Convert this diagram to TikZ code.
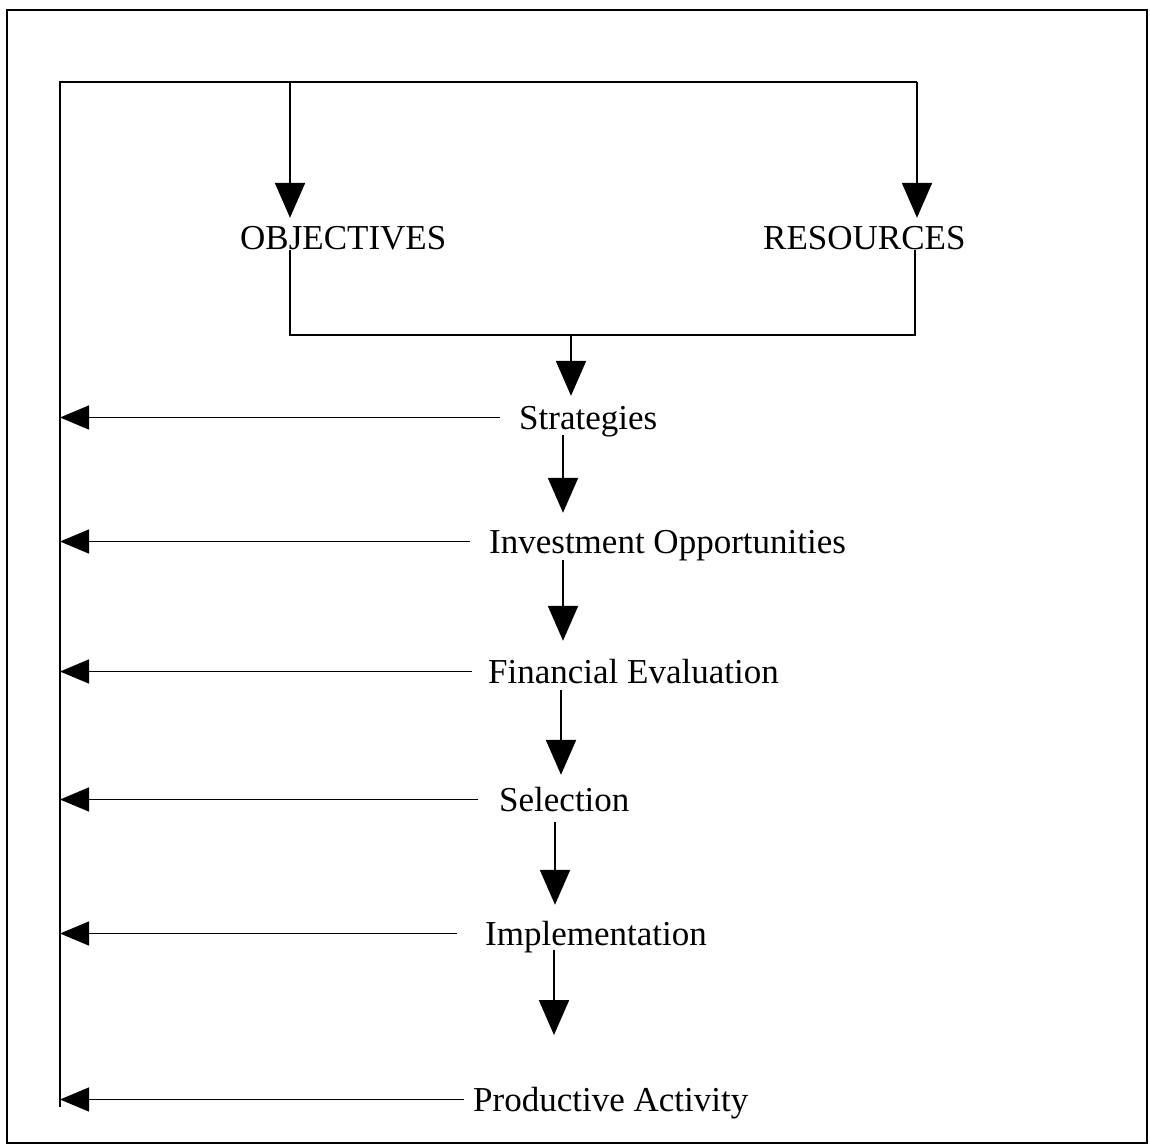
\documentclass[tikz,border=0pt]{standalone}
\usepackage{fontspec}
\setmainfont{Liberation Serif}
\usetikzlibrary{arrows.meta}
\begin{document}
\begin{tikzpicture}[x=1pt,y=1pt,
  lbl/.style={inner sep=0pt,text height=23pt,text depth=0pt,anchor=base west,
    font=\fontsize{35}{40}\selectfont},
  frame/.style={line width=2.4pt},
  loopline/.style={line width=1.5pt},
  boxline/.style={line width=2.2pt},
  down/.style={line width=2.2pt,-{Triangle[length=35pt,width=30pt]}},
  back/.style={line width=1.4pt,-{Triangle[length=29pt,width=24pt]}}]
\useasboundingbox (0,0) rectangle (1150,-1147);

% outer frame
\draw[frame] (7,-10) rectangle (1147,-1143);

% labels
\node[lbl] (obj)   at (240,-250)  {OBJECTIVES};
\node[lbl] (res)   at (763,-250)  {RESOURCES};
\node[lbl] (strat) at (519,-429)  {Strategies};
\node[lbl] (inv)   at (489,-553)  {Investment Opportunities};
\node[lbl] (fin)   at (488,-683)  {Financial Evaluation};
\node[lbl] (sel)   at (499,-811)  {Selection};
\node[lbl] (impl)  at (485,-945)  {Implementation};
\node[lbl] (prod)  at (473,-1111) {Productive Activity};

% feedback loop
\coordinate (tl) at (60,-82);
\coordinate (tr) at (917,-82);
\coordinate (bl) at (60,-1107);
\coordinate (ot) at (290,-82);
\draw[loopline] (bl) -- (tl) -- (tr);
\draw[down] (ot) -- ([yshift=9pt]obj.north -| ot);
\draw[down] (tr) -- ([yshift=9pt]res.north -| tr);

% joining objectives and resources
\coordinate (jl) at (290,-335);
\coordinate (jr) at (915,-335);
\coordinate (jm) at (571,-335);
\draw[boxline] (obj.south -| jl) -- (jl) -- (jr) -- (res.south -| jr);

% main chain
\coordinate (a1) at (563,0);
\coordinate (a2) at (561,0);
\coordinate (a3) at (555,0);
\coordinate (a4) at (554,0);
\coordinate (endtip) at (554,-1035);
\draw[down] (jm) -- ([yshift=10pt]strat.north -| jm);
\draw[down] ([yshift=-6pt]strat.south -| a1) -- ([yshift=17pt]inv.north -| a1);
\draw[down] ([yshift=-7pt]inv.south -| a1) -- ([yshift=19pt]fin.north -| a1);
\draw[down] ([yshift=-7pt]fin.south -| a2) -- ([yshift=13pt]sel.north -| a2);
\draw[down] ([yshift=-11pt]sel.south -| a3) -- ([yshift=17pt]impl.north -| a3);
\draw[down] ([yshift=-5pt]impl.south -| a4) -- (endtip);

% feedback arrows to the loop
\draw[back] ([xshift=-19pt]strat.west) -- (strat.west -| tl);
\draw[back] ([xshift=-19pt]inv.west)   -- (inv.west -| tl);
\draw[back] ([xshift=-16pt]fin.west)   -- (fin.west -| tl);
\draw[back] ([xshift=-21pt]sel.west)   -- (sel.west -| tl);
\draw[back] ([xshift=-28pt]impl.west)  -- (impl.west -| tl);
\draw[back] ([xshift=-9pt]prod.west)   -- (prod.west -| tl);
\end{tikzpicture}
\end{document}
